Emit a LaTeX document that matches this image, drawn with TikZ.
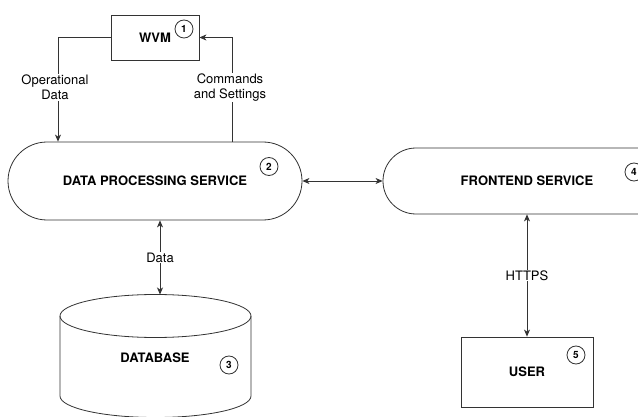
\documentclass[tikz,border=0pt]{standalone}
\usepackage{fontspec}
\setmainfont{TeX Gyre Heros}
\usetikzlibrary{arrows.meta,positioning}

\begin{document}
\begin{tikzpicture}[
    x=1pt, y=-1pt,
    every node/.style={font=\fontsize{13}{15}\selectfont},
    block/.style={draw=black!80, line width=0.8pt, fill=white, inner sep=0pt, font=\fontsize{13}{15}\selectfont\bfseries},
    service/.style={block, rounded corners=#1},
    badge/.style={circle, draw=black!80, line width=0.8pt, fill=white, minimum size=18pt, inner sep=0pt, font=\fontsize{10}{12}\selectfont\bfseries},
    arrow/.style={->, >={Stealth[length=7pt,width=6pt,inset=2pt]}, line width=0.8pt, draw=black!80},
    lbl/.style={fill=white, align=center, inner sep=1pt}
]
\useasboundingbox (0,0) rectangle (638,417);
\clip (0,0) rectangle (638,417);

% Components
\node[block, minimum width=88pt, minimum height=45pt] (wvm) at (155,37.5) {WVM};
\node[service=39pt, minimum width=294pt, minimum height=78pt] (dps) at (155,181) {DATA PROCESSING SERVICE};
\node[service=33pt, minimum width=288pt, minimum height=66pt] (fe) at (527,181) {FRONTEND SERVICE};
\node[block, minimum width=132pt, minimum height=70pt] (user) at (527,372) {USER};

% Database cylinder
\draw[draw=black!80, line width=0.8pt] (155.5,316) ellipse [x radius=95.5, y radius=21.5];
\draw[draw=black!80, line width=0.8pt] (60,316) -- (60,396) arc[start angle=180, end angle=0, x radius=95.5, y radius=21.5] -- (251,316);
\node[font=\fontsize{13}{15}\selectfont\bfseries] (db) at (155,358) {DATABASE};
\coordinate (dbtop) at (160,294.5);

% Numbers
\node[badge] (n1) at (184,29) {1};
\node[badge] (n2) at (269,166.5) {2};
\node[badge] (n3) at (229,365) {3};
\node[badge] (n4) at (634,172) {4};
\node[badge] (n5) at (576,355) {5};

% Connections
\draw[arrow] (wvm.west) -| node[lbl, pos=0.74, xshift=-3pt] {Operational\\Data} ([xshift=-97pt]dps.north);
\draw[arrow] ([xshift=77pt]dps.north) |- node[lbl, pos=0.26, xshift=-2pt] {Commands\\and Settings} (wvm.east);
\draw[arrow, <->] (dps.south -| dbtop) -- node[lbl] {Data} (dbtop);
\draw[arrow, <->] (dps.east) -- (fe.west);
\draw[arrow, <->] (fe.south) -- node[lbl] {HTTPS} (user.north);

\end{tikzpicture}
\end{document}
